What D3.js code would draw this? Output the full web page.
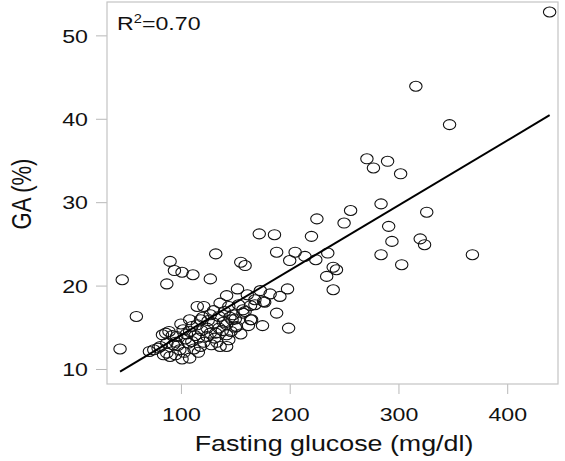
<!DOCTYPE html>
<html><head><meta charset="utf-8">
<script src="https://cdn.jsdelivr.net/npm/d3@7"></script>
<style>body{margin:0;background:#fff}svg{display:block}text{font-family:"Liberation Sans",Arial,sans-serif;fill:#111}</style>
</head><body><svg id="c" width="565" height="461"></svg>
<script>
const glucose = [439,316,347,271,277,290,302,284,256,250,326,291,294,320,324,284,368,303,225,220,205,235,214,200,224,240,243,234,198,240,186,172,188,132,90,94,101,111,155,159,127,46,87,152,173,142,161,182,
59,44,71,188,199,175,191,176,168,157,164,151,157,136,144,148,147,142,135,132,142,142,136,135,130,118,108,110,102,96,93,99,107,116,124,128,118,87,81,75,87,90,95,108,124,127,108,101,89,83,115,121,79,84,86,144,168,177,164,153,159,150,165,162,150,139,
113,119,104,97,112,121,131,138,127,115,103,92,125,146,155,133,140,105,110,95,100,120,130,145,116];
const ga = [52.8,43.9,39.3,35.2,34.1,34.9,33.4,29.8,29.0,27.5,28.8,27.1,25.3,25.6,24.9,23.7,23.7,22.5,28.0,25.9,24.0,23.9,23.5,23.0,23.1,22.2,21.9,21.1,19.6,19.5,26.1,26.2,24.0,23.8,22.9,21.8,21.6,21.3,22.8,22.4,20.8,20.7,20.2,19.6,19.4,18.8,18.9,19.0,
16.3,12.4,12.1,16.7,14.9,15.2,18.7,18.1,17.7,17.1,15.9,15.1,16.7,17.9,17.5,16.5,15.9,15.3,14.9,14.3,14.1,12.7,12.7,16.3,15.5,15.9,15.9,15.1,14.7,13.9,12.9,12.3,13.1,13.7,13.9,12.9,12.7,11.9,12.7,12.3,13.1,11.5,11.7,14.5,14.9,14.3,11.3,11.2,14.5,14.1,17.5,17.5,12.5,11.7,14.3,13.5,18.3,18.0,17.6,17.7,16.9,16.0,15.9,15.2,15.0,15.6,
14.0,14.6,13.6,12.8,12.4,13.2,13.7,14.6,16.5,15.3,12.0,14.0,15.8,14.5,14.2,13.2,16.9,14.2,13.3,13.2,15.4,16.2,17.0,16.2,12.0];
const xTicks = [100,200,300,400];
const yTicks = [10,20,30,40,50];
const xDomain = [32,446.7];
const yDomain = [8.2,54];
const fitCoef = [6.27,0.0778];   // intercept, slope
const r2Label = ["R","2","=0.70"];
const xTitle = "Fasting glucose (mg/dl)";
const yTitle = "GA (%)";

const L=107,R=558,T=2,B=384, SX=1.22;
const svg=d3.select("#c");
const x=d3.scaleLinear().domain(xDomain).range([L,R]);
const y=d3.scaleLinear().domain(yDomain).range([B,T]);

// axes
const gx=svg.append("g").attr("transform",`translate(0,${B})`)
  .call(d3.axisBottom(x).tickValues(xTicks).tickSize(10).tickSizeOuter(0));
gx.select(".domain").remove();
gx.selectAll(".tick line").attr("stroke","#b8b8b8");
gx.selectAll(".tick text").attr("y",0).attr("dy",0)
  .attr("transform","translate(0,37) scale("+SX+",1)").style("font-size","19px").attr("fill","#111");

const gy=svg.append("g").attr("transform",`translate(${L},0)`)
  .call(d3.axisLeft(y).tickValues(yTicks).tickSize(11).tickSizeOuter(0));
gy.select(".domain").remove();
gy.selectAll(".tick line").attr("stroke","#b8b8b8");
gy.selectAll(".tick text").attr("x",0).attr("dy","0.35em")
  .attr("transform","translate(-19,0) scale("+SX+",1)").style("font-size","19px").attr("fill","#111");

// box
svg.append("rect").attr("x",L).attr("y",T).attr("width",R-L).attr("height",B-T)
  .attr("fill","none").attr("stroke","#c4c4c4").attr("stroke-width",1.2);

// points
const pts=glucose.map((g,i)=>({g,a:ga[i]}));
svg.append("g").selectAll("ellipse").data(pts).join("ellipse")
  .attr("cx",d=>x(d.g)).attr("cy",d=>y(d.a)).attr("rx",6.2).attr("ry",5)
  .attr("fill","none").attr("stroke","#111").attr("stroke-width",1.1);

// fit line
const ext=d3.extent(glucose);
svg.append("path").datum(ext).attr("d",d3.line().x(d=>x(d)).y(d=>y(fitCoef[0]+fitCoef[1]*d)))
  .attr("stroke","#000").attr("stroke-width",2).attr("fill","none");

// R2 label
const rt=svg.append("text").attr("transform","translate(117,30) scale("+SX+",1)").style("font-size","19px");
rt.append("tspan").text(r2Label[0]);
rt.append("tspan").attr("dy",-7).style("font-size","12px").text(r2Label[1]);
rt.append("tspan").attr("dy",7).text(r2Label[2]);

// titles
svg.append("text").attr("text-anchor","middle")
  .attr("transform","translate(334,451) scale("+SX+",1)").style("font-size","22px").text(xTitle);
svg.append("text").attr("text-anchor","middle")
  .attr("transform","translate(31,194) rotate(-90) scale(1,"+SX+")").style("font-size","22px").text(yTitle);
</script></body></html>
